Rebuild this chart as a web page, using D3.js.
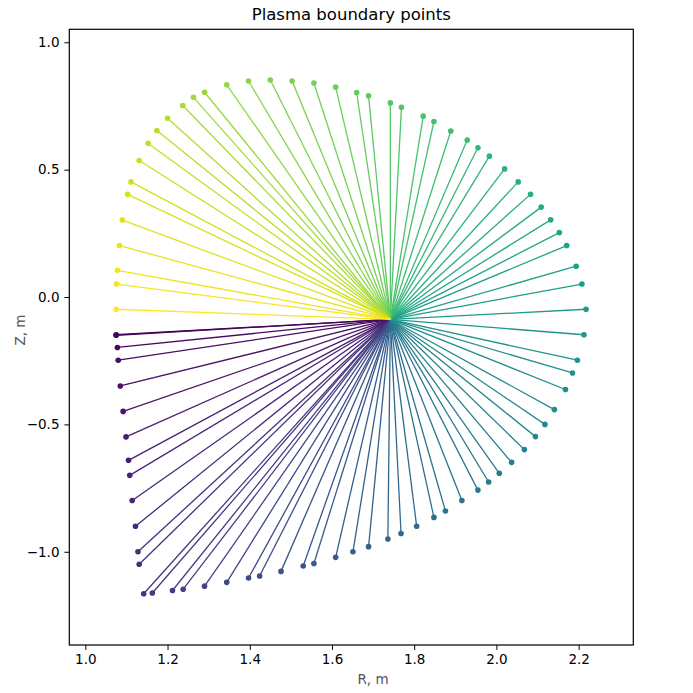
<!DOCTYPE html>
<html>
<head>
<meta charset="utf-8">
<script src="https://cdn.jsdelivr.net/npm/d3@7"></script>
<style>
    body { margin: 0; background: #fff; }
    svg text { font-family: "DejaVu Sans", sans-serif; }
</style>
</head>
<body>
<div id="chart"></div>
<script>
// boundary points (R, Z in metres), in plotting order
let boundaryR = [1.075, 1.075, 1.078, 1.080, 1.085, 1.092, 1.099, 1.105, 1.108, 1.114, 1.122,
    1.128, 1.131, 1.142, 1.163, 1.212, 1.238, 1.290, 1.344, 1.397, 1.424, 1.476, 1.530,
    1.556, 1.609, 1.651, 1.689, 1.736, 1.768, 1.806, 1.848, 1.876, 1.916, 1.955, 1.981,
    2.007, 2.037, 2.068, 2.095, 2.118, 2.141, 2.168, 2.185, 2.197, 2.213, 2.218, 2.208,
    2.194, 2.171, 2.153, 2.132, 2.109, 2.083, 2.053, 2.020, 1.983, 1.955, 1.929, 1.889,
    1.848, 1.822, 1.769, 1.742, 1.689, 1.660, 1.609, 1.556, 1.503, 1.450, 1.397, 1.344,
    1.290, 1.263, 1.237, 1.200, 1.174, 1.153, 1.131, 1.111, 1.103, 1.090, 1.083, 1.078,
    1.076, 1.075];
let boundaryZ = [-0.148, -0.150, -0.198, -0.248, -0.349, -0.449, -0.549, -0.641, -0.700, -0.799, -0.900,
    -1.000, -1.049, -1.165, -1.162, -1.152, -1.147, -1.135, -1.120, -1.103, -1.095, -1.077, -1.056,
    -1.046, -1.022, -1.000, -0.980, -0.950, -0.928, -0.900, -0.865, -0.840, -0.799, -0.758, -0.726,
    -0.692, -0.649, -0.599, -0.548, -0.500, -0.442, -0.363, -0.298, -0.248, -0.148, -0.048, 0.051,
    0.121, 0.202, 0.253, 0.303, 0.353, 0.403, 0.452, 0.503, 0.553, 0.586, 0.616, 0.652,
    0.689, 0.710, 0.745, 0.762, 0.790, 0.803, 0.824, 0.840, 0.848, 0.852, 0.848, 0.833,
    0.804, 0.784, 0.752, 0.702, 0.654, 0.603, 0.536, 0.452, 0.403, 0.302, 0.202, 0.105,
    0.051, -0.048];

// magnetic axis, where every ray starts
let axisR = 1.742;
let axisZ = -0.088;

let xTicks = [1.0, 1.2, 1.4, 1.6, 1.8, 2.0, 2.2];
let yTicks = [-1.0, -0.5, 0.0, 0.5, 1.0];

let titleText = "Plasma boundary points";
let xLabel = "R, m";
let yLabel = "Z, m";

let points = boundaryR.map((r, i) => ({r: r, z: boundaryZ[i], i: i}));

let W = 693, H = 693;
let margin = {top: 29.3, right: 59.7, bottom: 48, left: 69.3};
let width = W - margin.left - margin.right;
let height = H - margin.top - margin.bottom;

let svg = d3.select("#chart").append("svg")
    .attr("width", W)
    .attr("height", H);

let g = svg.append("g")
    .attr("transform", `translate(${margin.left}, ${margin.top})`);

let x = d3.scaleLinear().domain([0.961, 2.333]).range([0, width]);
let y = d3.scaleLinear().domain([-1.366, 1.051]).range([height, 0]);

let color = d3.scaleSequential(d3.interpolateViridis).domain([0, points.length - 1]);

let minus = d => d3.format(".1f")(d).replace("-", "\u2212");

// rays from the axis to each boundary point
g.selectAll(".ray")
    .data(points)
    .enter().append("line")
    .attr("class", "ray")
    .attr("x1", x(axisR))
    .attr("y1", y(axisZ))
    .attr("x2", d => x(d.r))
    .attr("y2", d => y(d.z))
    .attr("stroke", d => color(d.i))
    .attr("stroke-width", 1.3);

g.selectAll(".dot")
    .data(points)
    .enter().append("circle")
    .attr("class", "dot")
    .attr("cx", d => x(d.r))
    .attr("cy", d => y(d.z))
    .attr("r", 2.8)
    .attr("fill", d => color(d.i));

// axes
let xAxis = d3.axisBottom(x).tickValues(xTicks).tickFormat(minus).tickSizeOuter(0).tickSize(4.9).tickPadding(4.9);
let yAxis = d3.axisLeft(y).tickValues(yTicks).tickFormat(minus).tickSizeOuter(0).tickSize(4.9).tickPadding(4.9);

g.append("g")
    .attr("transform", `translate(0, ${height})`)
    .call(xAxis)
    .call(a => a.select(".domain").remove())
    .selectAll("text").attr("font-size", "13.5px").attr("fill", "#000").attr("font-family", "DejaVu Sans");

g.append("g")
    .call(yAxis)
    .call(a => a.select(".domain").remove())
    .selectAll("text").attr("font-size", "13.5px").attr("fill", "#000").attr("font-family", "DejaVu Sans");

g.selectAll(".tick line").attr("stroke", "#000").attr("stroke-width", 1);

// frame
g.append("rect")
    .attr("width", width)
    .attr("height", height)
    .attr("fill", "none")
    .attr("stroke", "#000")
    .attr("stroke-width", 1.2);

// title and labels
svg.append("text")
    .text(titleText)
    .attr("x", margin.left + width / 2)
    .attr("y", 20)
    .attr("text-anchor", "middle")
    .attr("font-size", "16.5px")
    .attr("fill", "#000");

svg.append("text")
    .text(xLabel)
    .attr("x", 373)
    .attr("y", 684)
    .attr("text-anchor", "middle")
    .attr("font-size", "13.5px")
    .attr("fill", "#555");

svg.append("text")
    .text(yLabel)
    .attr("transform", "translate(25, 330) rotate(-90)")
    .attr("text-anchor", "middle")
    .attr("font-size", "13.5px")
    .attr("fill", "#555");
</script>
</body>
</html>
